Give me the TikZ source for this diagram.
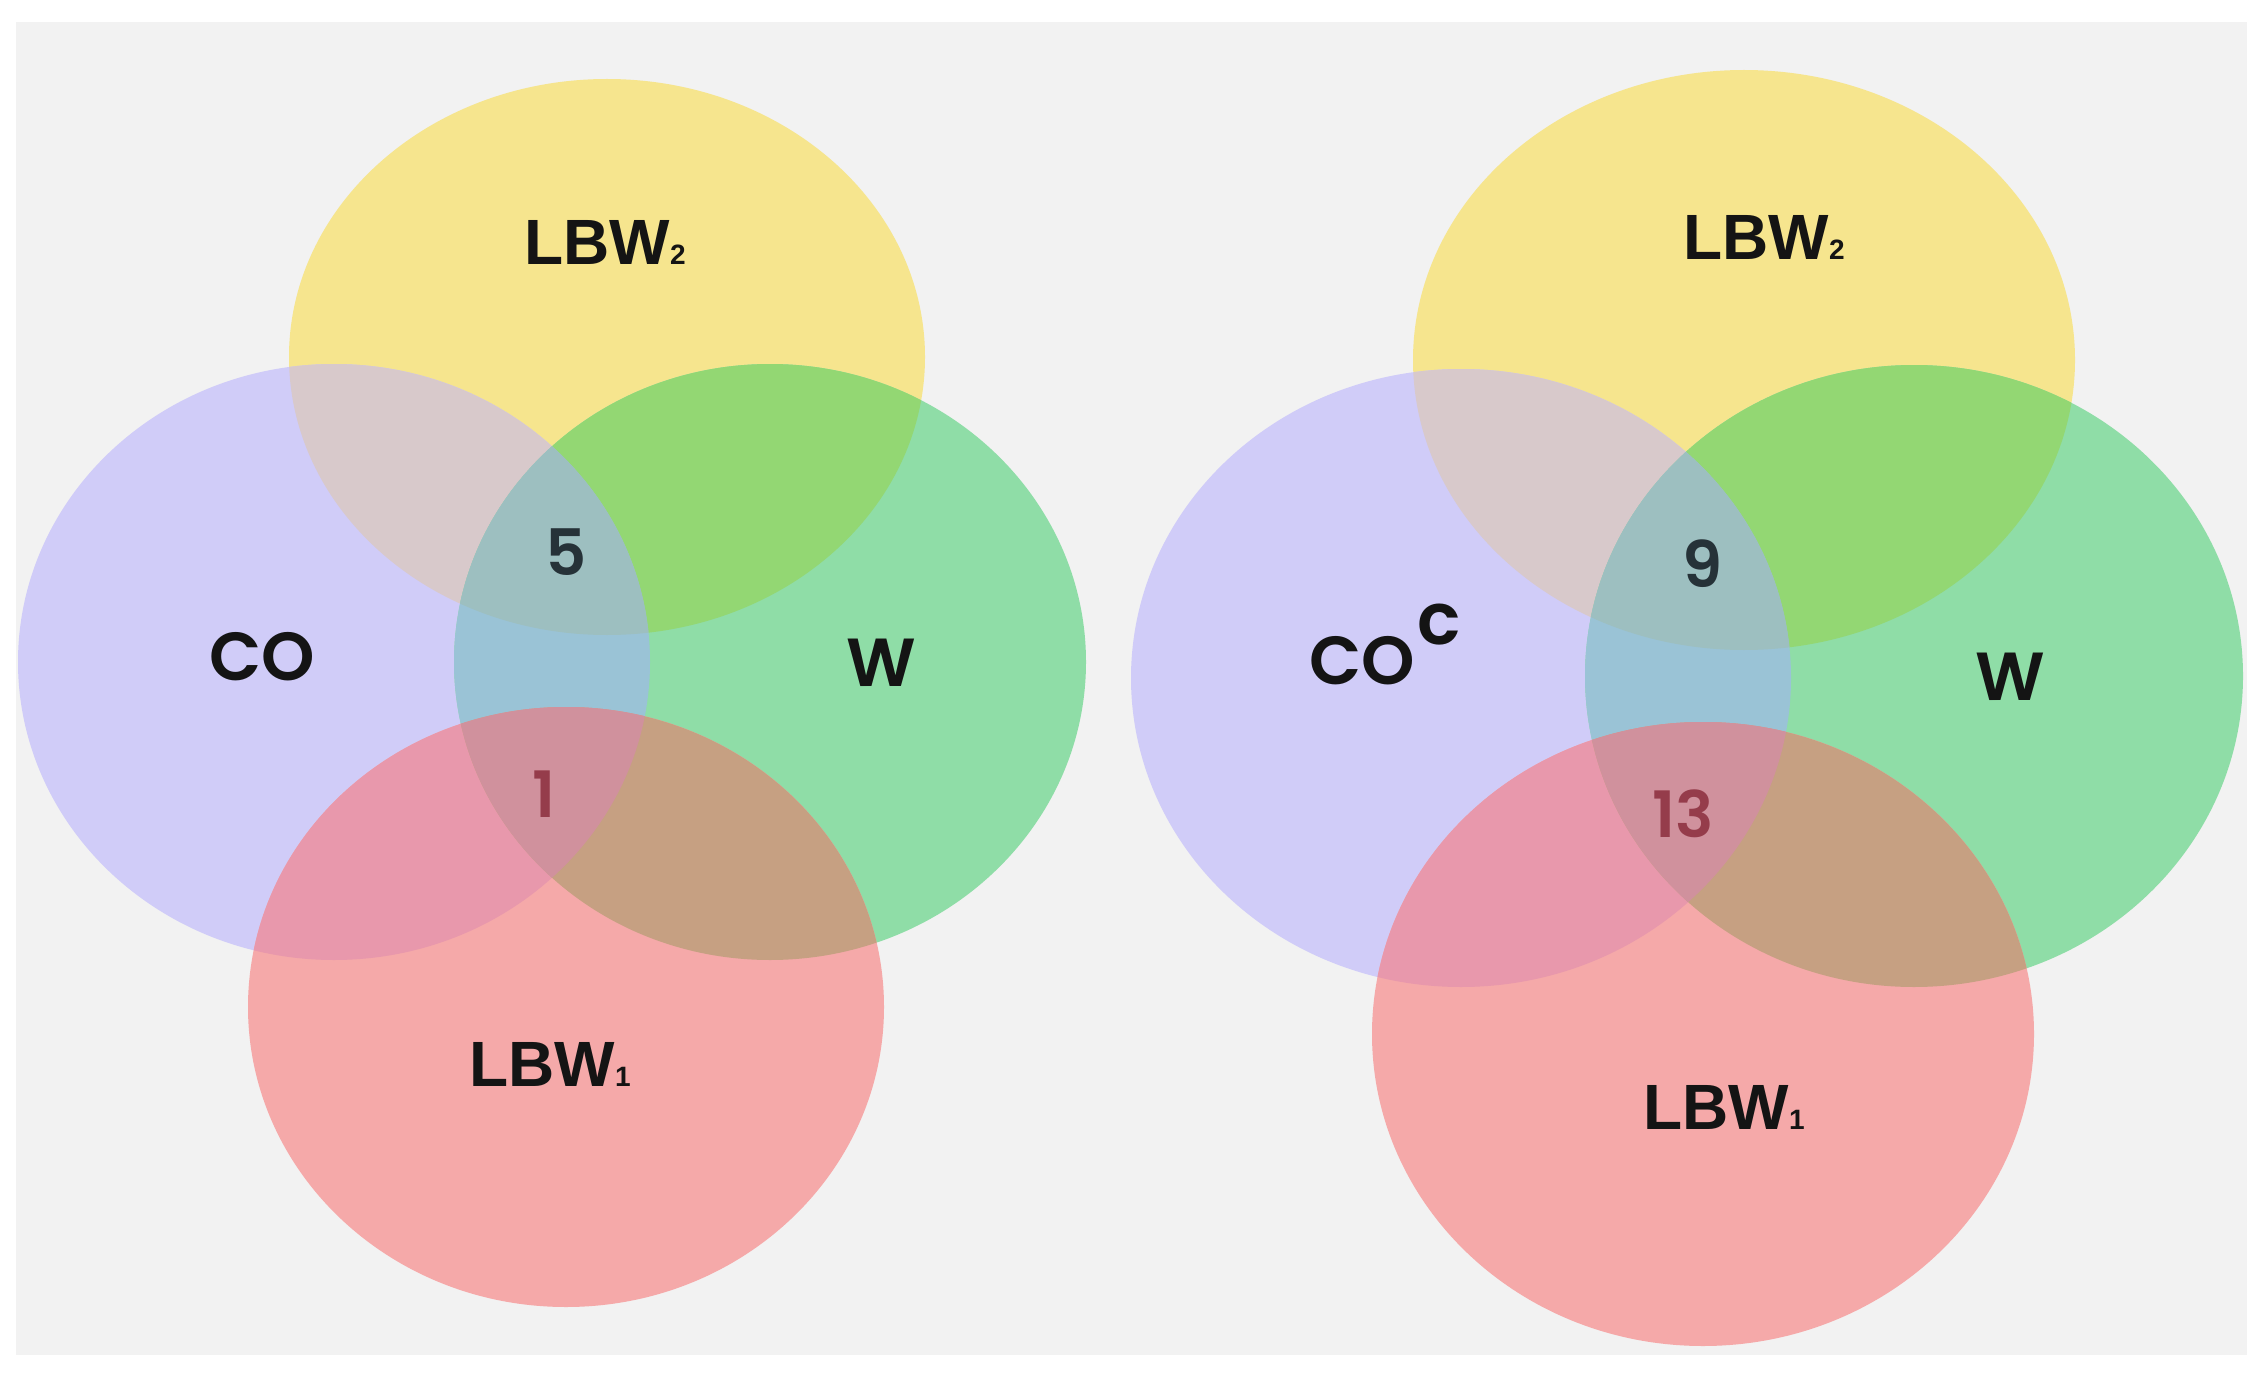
\documentclass[tikz,border=0pt]{standalone}
\usepackage{fontspec}
\newfontfamily\lib{Liberation Sans}
\newfontfamily\popm{Poppins Medium}
\newfontfamily\pops{Poppins SemiBold}
\definecolor{bgout}{HTML}{FFFFFF}
\definecolor{bgin}{HTML}{F2F2F2}
\definecolor{cY}{HTML}{F6E58E}
\definecolor{cB}{HTML}{D0CCF8}
\definecolor{cG}{HTML}{8FDDA7}
\definecolor{cR}{HTML}{F5A9A9}
\definecolor{cYB}{HTML}{D8C9CB}
\definecolor{cYG}{HTML}{93D773}
\definecolor{cBG}{HTML}{9AC3D6}
\definecolor{cBR}{HTML}{E898AC}
\definecolor{cGR}{HTML}{C6A082}
\definecolor{cYBG}{HTML}{9DBFC0}
\definecolor{cBGR}{HTML}{D0919D}
\definecolor{numdark}{HTML}{263238}
\definecolor{numred}{HTML}{953C4B}
\definecolor{labcol}{HTML}{141414}
\tikzset{
  LY/.style={insert path={(607,357) ellipse [x radius=159pt, y radius=139pt]}},
  LB/.style={insert path={(334,662) ellipse [x radius=158pt, y radius=149pt]}},
  LG/.style={insert path={(770,662) ellipse [x radius=158pt, y radius=149pt]}},
  LR/.style={insert path={(566,1007) ellipse [x radius=159pt, y radius=150pt]}},
  RY/.style={insert path={(1744,360) ellipse [x radius=165.5pt, y radius=145pt]}},
  RB/.style={insert path={(1461,678) ellipse [x radius=165pt, y radius=154.5pt]}},
  RG/.style={insert path={(1914,676) ellipse [x radius=164.5pt, y radius=155.5pt]}},
  RR/.style={insert path={(1703,1034) ellipse [x radius=165.5pt, y radius=156pt]}},
  lbw/.style={inner sep=0pt, anchor=base, text=labcol, font=\lib\bfseries\fontsize{32pt}{38pt}\selectfont},
  setlab/.style={inner sep=0pt, anchor=base, text=labcol, font=\pops\fontsize{34pt}{40pt}\selectfont},
  numlab/.style={inner sep=0pt, anchor=base, font=\pops\fontsize{32pt}{38pt}\selectfont},
}
\newcommand\vennfill[1]{%
  \path[fill=cY,#1Y]; \path[fill=cB,#1B]; \path[fill=cG,#1G]; \path[fill=cR,#1R];
  \begin{scope}\path[clip,#1B]; \path[fill=cYB,#1Y];\end{scope}
  \begin{scope}\path[clip,#1G]; \path[fill=cYG,#1Y];\end{scope}
  \begin{scope}\path[clip,#1B]; \path[fill=cBG,#1G];\end{scope}
  \begin{scope}\path[clip,#1B]; \path[fill=cBR,#1R];\end{scope}
  \begin{scope}\path[clip,#1G]; \path[fill=cGR,#1R];\end{scope}
  \begin{scope}\path[clip,#1Y]; \path[clip,#1B]; \path[fill=cYBG,#1G];\end{scope}
  \begin{scope}\path[clip,#1B]; \path[clip,#1G]; \path[fill=cBGR,#1R];\end{scope}
}
\begin{document}
\begin{tikzpicture}[x=0.5pt,y=-0.5pt]
\useasboundingbox (0,0) rectangle (2265,1375);
\fill[bgout] (0,0) rectangle (2265,1375);
\fill[bgin] (16,22) rectangle (2247,1355);
\vennfill{L}
\vennfill{R}
% left labels
\node[lbw] (l-lbw2) at (605,265) {LBW{\fontsize{14pt}{16pt}\selectfont 2}};
\node[lbw] (l-lbw1) at (550,1086) {LBW{\fontsize{14pt}{16pt}\selectfont 1}};
\node[setlab] (l-co) at (262,680) {CO};
\node[setlab] (l-w) at (881,686) {W};
\node[numlab, text=numdark] (l-n5) at (566,575) {5};
\node[numlab, text=numred] (l-n1) at (544,817) {1};
% right labels
\node[lbw] (r-lbw2) at (1764,260) {LBW{\fontsize{14pt}{16pt}\selectfont 2}};
\node[lbw] (r-lbw1) at (1724,1129) {LBW{\fontsize{14pt}{16pt}\selectfont 1}};
\node[setlab, anchor=base west] (r-co) at (1309,684) {CO\hspace{1pt}\raisebox{20pt}{\fontsize{36pt}{42pt}\selectfont c}};
\node[setlab] (r-w) at (2010,700) {W};
\node[numlab, text=numdark] (r-n9) at (1703,587) {9};
\node[numlab, text=numred] (r-n13) at (1683,837) {13};
\end{tikzpicture}
\end{document}
